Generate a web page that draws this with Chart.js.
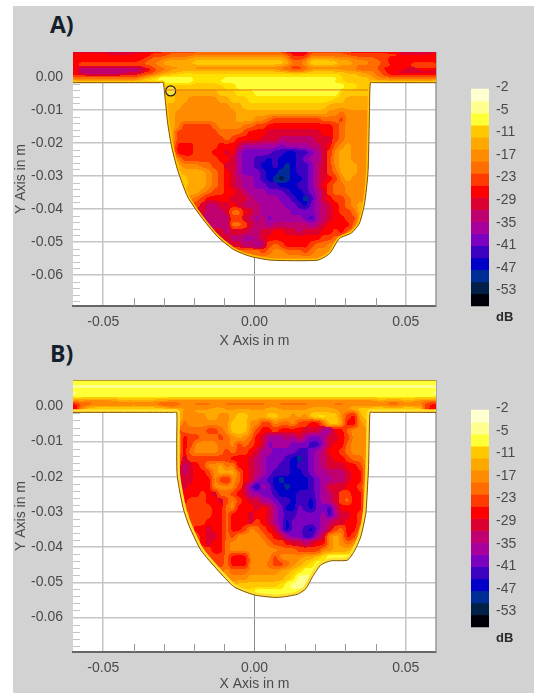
<!DOCTYPE html>
<html>
<head>
<meta charset="utf-8">
<script src="https://cdn.jsdelivr.net/npm/chart.js@4/dist/chart.umd.min.js"></script>
<style>
    html, body { margin: 0; padding: 0; background: #fff; }
    body { width: 534px; height: 693px; overflow: hidden; position: relative; }
    #panel { position: absolute; left: 13px; top: 6px; right: 0; bottom: 0; background: #d2d2d2; }
    canvas { position: absolute; }
    .tag { position: absolute; font: bold 23px "Open Sans", sans-serif; color: #14202c; }
</style>
</head>
<body>
<div id="panel"></div>
<div class="tag" style="left:50px;top:8px">A)</div>
<div class="tag" style="left:50px;top:337px">B)</div>
<canvas id="chartA" width="521" height="340" style="left:13px;top:10px"></canvas>
<canvas id="chartB" width="521" height="343" style="left:13px;top:350px"></canvas>
<canvas id="legendA" width="94" height="260" style="left:440px;top:76px"></canvas>
<canvas id="legendB" width="94" height="260" style="left:440px;top:397px"></canvas>
<script>
// dB bands, top of the colour bar first. Letters in the grids below index this list,
// d is an in-between shade that only the field uses
const bandColors = [
    '#ffffd0', '#ffff90', '#ffff38', '#ffe200', '#ffc800', '#ffa800', '#ff8c00',
    '#ff6c00', '#ff3c00', '#ff0000', '#dc0030', '#c0006e', '#a8009c', '#7c00c0',
    '#3c00c0', '#0000c8', '#002c96', '#002048', '#000008'
];
const legendColors = bandColors.filter((c, i) => i !== 3);
const legendLabels = ['-2', '-5', '-11', '-17', '-23', '-29', '-35', '-41', '-47', '-53', 'dB'];
const legendTicks = [-0.17, 1.71, 3.59, 5.46, 7.34, 9.21, 11.09, 12.97, 14.84, 16.72, 18.92];

const xLabels = [-0.05, 0, 0.05];
const yLabels = [0, -0.01, -0.02, -0.03, -0.04, -0.05, -0.06];
const xMinor = [-0.04, -0.03, -0.02, -0.01, 0.01, 0.02, 0.03, 0.04];
const yMinor = [-0.002, -0.004, -0.006, -0.008, -0.012, -0.014, -0.016, -0.018, -0.022, -0.024, -0.026, -0.028,
    -0.032, -0.034, -0.036, -0.038, -0.042, -0.044, -0.046, -0.048, -0.052, -0.054, -0.056, -0.058,
    -0.062, -0.064, -0.066, -0.068];

// band rows of the strip above y = -0.002, 1 mm rows, 2 mm columns from x = -0.06
const stripA = [
    'kkkkkkllll kkkjjiiiii iiiiiiiiii iiiiikkkki iiiiijjjjj jjjjlllllk',
    'jjjjjjjjjj jjjiiihhhh gggggggggg ggggghjjjh hhhhhhiiii iiiijjjjjj',
    'jjjjjjjjjj jjihhggggf ffffffffff fffffgiihf fffgggghhh iijjjjjjjj',
    'jjjjjjjjjj jihhgfffff eeeeeeeeee eeeeefhhge eeeeffgggh hijjjjjjjj',
    'jhhhhhhhhh hhhggfffee eeeeeeeeee eeeeefggfe eeeefffggh hiijjjhhhh',
    'jlllllllll lljihhgggg hhhhhhhhhh hhhhiijjih hhhhhhhiih ijjjjkkjjj',
    'jmmmmmmmml lkjihgffee eeeeeeeeee eeeeeffffe eeeeefffgg hijkkkkkkk',
    'jjkkkkkkjj jihgfeeddd dddddddddd dddddddddd ddddeeeffg hijjjjjjjj',
    'gggggggggg gfedcccccc dddddccccc cccccccccc ccccdeeeef gggggggggg',
    'ffffffffff feddcccccc ddddcccccc cccccccccc cccdeeeeef ffffffffff'
];
const stripB = [
    'cccccccccc cccccccccc cccccccccc cccccccccc cccccccccc cccccccccc',
    'cccccccccc cccccccccc cccccccccc cccccccccc cccccccccc cccccccccc',
    'bbbbbbbbbb bbbbbbbbbb bbbbbbbbbb bbbbbbbbbb bbbbbbbbbb bbbbbbbbbb',
    'cccccccccc cccccccccc cccccccccc cccccccccc cccccccccc cccccccccc',
    'bbbbbbbbbb bbbbbbbbbb bbbbbbbbbb bbbbbbbbbb bbbbbbbbbb bbbbbbbbbb',
    'dddddddddd dddddddddd dddddddddd dddddddddd dddddddddd dddddddddd',
    'ffgggggfff ffffffgggg gggggggggg gggggggggg gggggggggg fffffffggg',
    'jiihhhhhhh hhhhiiihhh hhhhhhhhhh hhhhhhhhhh hhhhhhhhhh hhiihhhhij',
    'jgeeeeeeee eeeeefggff gggffggggg ggffgggggf fffggfeeee eeeeeeeeij',
    'jfeddddddd dddddddegg ffffffffff ffffffffff ffffgggeed dddddddeij'
];

// band rows of the cavity below y = -0.002, 2 mm cells, columns from x = -0.03
const cavityA = [
    'eeeee eeeee ddccc ccccc ccccc ccccc ddeee',
    'eefff ffffe eeddd ccccc ccccc cccce eeeee',
    'eeffg ggggf feeed ddddd ddddd dddee fffff',
    'fffgg ggggg gffee eeeee eeeee eefff fffff',
    'ffggg ggggg ggfff fffff fffff ffggh ggggg',
    'ffggg ggggg ggfff gghii iiiii ihhhi ggggg',
    'ffgii iiihg ggghh iijjj jjjjj jjjih ggggg',
    'ffiii iiiih hhhij jjkkk kkkkk kjjih ggggg',
    'ffiii iiiii hijjj jkkkl lllll kkkih ggggg',
    'ffjjj iiiij jjkmm mmmmn mmmml lkjhg fgggg',
    'ffjjj iiijj kjmnn nnnoo ppoon mkigf fgggg',
    'eegii iiiij jkmnn oopop pponm mkigf fgggg',
    'eefgg ghhii kkmnn oppop qpoon lkigf ffggg',
    'eeeff ffghi jkmnn noppq qpoon lkihf ffggg',
    'eeeef ffghi jklmm nopqr qppon lkjig fgggg',
    'eeeef ffghi jklmm nnoop ppoon ljihh ggggg',
    'fffff fghii jjklm mmnnn oppon mkihh ggggg',
    'ggggg hijjj jkkkl mmmmn nopqo mkjii hgggg',
    'iiiii ikllk kjkll lmmmm nnopn mlkji hgfff',
    'kkkkk kklll khhjk lmmmm mnnnn mlkji ihfff',
    'lllll lllll liikl mlnmm mmmno mlkjj iifff',
    'lllll lllll lhhik llmll llllm lkjjj jhfff',
    'kkkkk kkkkk lkkkl lkkjj kklkk kjjij hhggg',
    'kkkkk kkkkk kllmm lkjjj jjjjj jiihh ggggg',
    'kkkkk kkkkk kkkll mlihi jjjji hhggg ggggg',
    'hhhhh hhhhh hhhhh hihgg hhhih ggggg ggggg',
    'ggggg ggggg ggggg ggggg ggggg ggggg ggggg'
];
const cavityB = [
    'eeegg ggffg gfeef ffeef fgfge ddeeg ijfee',
    'fffhg ggggg geeeg giigh hgiij jheef jjgff',
    'ffihh hhiih geeeg ijjij jjjkk kmmjj hgggg',
    'ffgji ihhhi hgfgh jkmmm lmkmn nmkkj igggg',
    'ffgji ggggh hgihi jknmm mnnno omkjj hgggg',
    'ffgjh ggggh ihiij kmmnn nnoon mljji hgggg',
    'ffhki iiiii ijjjk lmnnn opqon mlkjj ihhgg',
    'ffilk jiggf hgjjk lmnno opoon mlkkk jjigg',
    'ffjlk jjigf ffhjk lmnoo oppon mmlll kjjgg',
    'ffjkk jjjgi jghjk mnopq ppppo nmmll kjjgg',
    'ffjkj jjjgg ggikn pmnpp qpppo nmkkk jjigg',
    'ffjjj jijkh hijkm mnnop ppooo nmlki ijjgg',
    'ffjji iijjk igijk kmmno opoop nmlki hjjgg',
    'ffgii iiijj hgjjj kjkmn ppnop nnolj jjjgg',
    'ggggi iiijj hjjjk jjkmn oonnn nmomk kjigg',
    'ffffi iijjj hjjjk ijkmn pnnnn nmlkk jjigg',
    'iiiii jjkjj hjjig hijkn pnnop nmkih jjhgg',
    'hhhhi ijkkj higgg ghijk mnnoo mkgfg jiggg',
    'hhhhh ijkjj hgggg gghii jkklk jjgfg hgeee',
    'iiiii iiijj hgggg ggggh hhiii iggff fedcc',
    'hhhhh iiiii hjjjg gggig gggff edccc ccccc',
    'hhhhh hhiii hjjjg gghii hgfed ccccc ccccc',
    'hhhhh hhhhh ghhhg ggggf fedcc ccccc ccccc',
    'ggggg ggggg ggggf fffff edbbb bbbbb bbbbb',
    'fffff fffff ffeee eeeed cbbbb bbbbb bbbbb',
    'ddddd ddddd ddddd ccccc ccccc ccccc ccccc',
    'ccccc ccccc ccccc ccccc ccccc ccccc ccccc'
];

// outline of the measured field, strip edge then around the cavity
const outlineAX = [-0.06, -0.0312, -0.0302, -0.0296, -0.0287, -0.0274, -0.0254, -0.0221, -0.0177, -0.0122, -0.0067, -0.0012, 0.0055, 0.0209, 0.0248, 0.0281, 0.032, 0.0347, 0.0364, 0.0375, 0.0378, 0.038, 0.0383, 0.0393, 0.06];
const outlineAY = [-0.0017, -0.0017, -0.0017, -0.006, -0.014, -0.0211, -0.0282, -0.0363, -0.0423, -0.0484, -0.0524, -0.0544, -0.0555, -0.0555, -0.0535, -0.0489, -0.0473, -0.0443, -0.0383, -0.0292, -0.0201, -0.011, -0.0017, -0.0017, -0.0017];
const outlineBX = [-0.06, -0.0267, -0.0257, -0.0257, -0.0256, -0.0248, -0.0234, -0.0215, -0.0177, -0.0122, -0.0067, 0, 0.0076, 0.0142, 0.017, 0.0192, 0.0219, 0.0252, 0.0307, 0.0329, 0.0351, 0.0368, 0.0373, 0.0377, 0.0379, 0.0382, 0.0392, 0.06];
const outlineBY = [-0.0017, -0.0017, -0.0017, -0.0096, -0.0191, -0.0238, -0.0295, -0.0342, -0.0409, -0.0465, -0.0513, -0.0536, -0.0543, -0.0534, -0.0518, -0.0484, -0.0451, -0.0439, -0.0437, -0.0413, -0.0371, -0.0304, -0.0238, -0.0172, -0.0096, -0.0017, -0.0017, -0.0017];

// the thin line and the probe ring in panel A, the top edge of panel B
const seamX = [-0.0295, 0.0375];
const seamY = [-0.0039, -0.0039];
const ringX = [-0.0277];
const ringY = [-0.0042];
const edgeX = [-0.06, 0.06];
const edgeY = [0.0074, 0.0074];

function gridCells(rows, xStart, yStart, dx, dy) {
    const cells = [];
    rows.forEach((text, r) => {
        const row = text.replace(/ /g, '');
        for (let c = 0; c < row.length; c++) {
            cells.push({
                x: xStart + dx * (c + 0.5),
                y: yStart - dy * (r + 0.5),
                w: dx,
                h: dy,
                v: row.charCodeAt(c) - 97
            });
        }
    });
    return cells;
}

function toPoints(xs, ys) {
    return xs.map((x, i) => ({ x: x, y: ys[i] }));
}

// snap every pixel to the nearest band so the field shows contour bands
function snapToBands(canvas) {
    const rgb = bandColors.map(c => [1, 3, 5].map(i => parseInt(c.substr(i, 2), 16)));
    const sctx = canvas.getContext('2d');
    const image = sctx.getImageData(0, 0, canvas.width, canvas.height);
    const d = image.data;
    for (let i = 0; i < d.length; i += 4) {
        if (d[i + 3] === 0) continue;
        let best = 0;
        let bestDist = Infinity;
        rgb.forEach((c, k) => {
            const dist = (c[0] - d[i]) ** 2 + (c[1] - d[i + 1]) ** 2 + (c[2] - d[i + 2]) ** 2;
            if (dist < bestDist) {
                bestDist = dist;
                best = k;
            }
        });
        d[i] = rgb[best][0];
        d[i + 1] = rgb[best][1];
        d[i + 2] = rgb[best][2];
        d[i + 3] = 255;
    }
    sctx.putImageData(image, 0, 0);
}

// fills the plot, draws the short axis ticks and paints the cells through the scales
function fieldPlugin(rimColor, rimWidth) {
    return {
        id: 'field',
        beforeDraw(chart) {
            const a = chart.chartArea;
            chart.ctx.fillStyle = '#fff';
            chart.ctx.fillRect(a.left, a.top, a.width, a.height);
        },
        beforeDatasetsDraw(chart) {
            const ctx = chart.ctx;
            const a = chart.chartArea;
            const xs = chart.scales.x;
            const ys = chart.scales.y;

            ctx.save();
            ctx.strokeStyle = '#c4c4c4';
            ctx.lineWidth = 1;
            yMinor.forEach(v => {
                const py = Math.round(ys.getPixelForValue(v)) + 0.5;
                ctx.beginPath();
                ctx.moveTo(a.left, py);
                ctx.lineTo(a.left + 7, py);
                ctx.stroke();
            });
            ctx.strokeStyle = '#999';
            xMinor.forEach(v => {
                const px = Math.round(xs.getPixelForValue(v)) + 0.5;
                ctx.beginPath();
                ctx.moveTo(px, a.bottom);
                ctx.lineTo(px, a.bottom - 8);
                ctx.stroke();
            });
            ctx.strokeStyle = '#9a9a9a';
            ctx.lineWidth = 1.5;
            ctx.beginPath();
            ctx.moveTo(a.right, a.top);
            ctx.lineTo(a.right, a.bottom);
            ctx.stroke();
            ctx.restore();

            // cells go on a spare canvas first so they can be softened as one picture
            const spare = document.createElement('canvas');
            spare.width = chart.width;
            spare.height = chart.height;
            const sctx = spare.getContext('2d', { willReadFrequently: true });
            chart.data.datasets[0].data.forEach(cell => {
                const left = xs.getPixelForValue(cell.x - cell.w / 2);
                const right = xs.getPixelForValue(cell.x + cell.w / 2);
                const top = ys.getPixelForValue(cell.y + cell.h / 2);
                const bottom = ys.getPixelForValue(cell.y - cell.h / 2);
                sctx.fillStyle = bandColors[cell.v];
                sctx.fillRect(left - 0.5, top - 0.5, right - left + 1, bottom - top + 1);
            });
            sctx.filter = 'blur(2.2px)';
            sctx.drawImage(spare, 0, 0);
            sctx.filter = 'none';
            snapToBands(spare);

            // same curve the outline dataset draws
            const line = chart.getDatasetMeta(1).dataset;

            ctx.save();
            ctx.beginPath();
            line.path(ctx);
            ctx.lineTo(a.right, a.top);
            ctx.lineTo(a.left, a.top);
            ctx.closePath();
            ctx.clip();
            ctx.drawImage(spare, 0, 0);
            ctx.filter = 'blur(0.6px)';
            ctx.drawImage(spare, 0, 0);
            ctx.beginPath();
            line.path(ctx);
            ctx.strokeStyle = rimColor;
            ctx.lineWidth = rimWidth;
            ctx.stroke();
            ctx.restore();
        }
    };
}

function createField(id, cells, outline, extras, yMax, yMin, padTop, xHeight, rimColor, rimWidth) {
    const datasets = [
        { label: 'cells', data: cells, pointRadius: 0, showLine: false },
        { label: 'outline', data: outline, showLine: true, pointRadius: 0, borderColor: '#86510e', borderWidth: 1, tension: 0.2 }
    ].concat(extras);

    return new Chart(document.getElementById(id), {
        type: 'scatter',
        data: { datasets: datasets },
        options: {
            responsive: false,
            animation: false,
            layout: { padding: { top: padTop, right: 98, left: 0, bottom: 0 } },
            plugins: { legend: { display: false }, tooltip: { enabled: false } },
            scales: {
                x: {
                    min: -0.06,
                    max: 0.06,
                    afterBuildTicks: s => { s.ticks = xLabels.map(v => ({ value: v })); },
                    afterFit: s => { s.height = xHeight; },
                    border: { color: '#666', width: 2 },
                    grid: {
                        drawTicks: false,
                        color: c => (c.tick && c.tick.value === 0 ? '#8c8c8c' : '#c4c4c4'),
                        lineWidth: c => (c.tick && c.tick.value === 0 ? 1 : 1.5)
                    },
                    ticks: {
                        padding: 8,
                        maxRotation: 0,
                        color: '#4a4a4a',
                        font: { family: '"Liberation Sans"', size: 14 },
                        callback: v => v.toFixed(2)
                    },
                    title: {
                        display: true,
                        text: 'X Axis in m',
                        color: '#4a4a4a',
                        font: { family: '"Liberation Sans"', size: 14 },
                        padding: { top: 0, bottom: 0 }
                    }
                },
                y: {
                    min: yMin,
                    max: yMax,
                    afterBuildTicks: s => { s.ticks = yLabels.map(v => ({ value: v })); },
                    afterFit: s => { s.width = 60; },
                    border: { display: false },
                    grid: { drawTicks: false, color: '#c4c4c4', lineWidth: 1.5 },
                    ticks: {
                        padding: 10,
                        color: '#4a4a4a',
                        font: { family: '"Liberation Sans"', size: 14 },
                        callback: v => v.toFixed(2)
                    },
                    title: {
                        display: true,
                        text: 'Y Axis in m',
                        color: '#4a4a4a',
                        font: { family: '"Liberation Sans"', size: 14 },
                        padding: { top: 0, bottom: 0 }
                    }
                }
            }
        },
        plugins: [fieldPlugin(rimColor, rimWidth)]
    });
}

function createLegend(id) {
    return new Chart(document.getElementById(id), {
        type: 'bar',
        data: {
            labels: ['dB'],
            datasets: legendColors.map((color, i) => ({
                label: 'band ' + i,
                data: [1],
                backgroundColor: color,
                barPercentage: 1,
                categoryPercentage: 1
            }))
        },
        options: {
            responsive: false,
            animation: false,
            layout: { padding: { top: 1, left: 31, right: 0, bottom: 12 } },
            plugins: { legend: { display: false }, tooltip: { enabled: false } },
            scales: {
                x: { stacked: true, display: false },
                y: {
                    stacked: true,
                    reverse: true,
                    position: 'right',
                    min: -1,
                    max: 19.5,
                    afterBuildTicks: s => { s.ticks = legendTicks.map(v => ({ value: v })); },
                    afterFit: s => { s.width = 45; s.paddingTop = 0; s.paddingBottom = 0; },
                    border: { display: false },
                    grid: { display: false, drawTicks: false },
                    ticks: {
                        padding: 7,
                        color: c => (c.index === 10 ? '#2a2a2a' : '#4a4a4a'),
                        font: c => ({ family: '"Liberation Sans"', size: c.index === 10 ? 13 : 14, weight: c.index === 10 ? 'bold' : 'normal' }),
                        callback: (v, i) => legendLabels[i]
                    }
                }
            }
        }
    });
}

createField('chartA',
    gridCells(stripA, -0.06, 0.008, 0.002, 0.001).concat(gridCells(cavityA, -0.03, -0.002, 0.002, 0.002)),
    toPoints(outlineAX, outlineAY),
    [
        { label: 'seam', data: toPoints(seamX, seamY), showLine: true, pointRadius: 0, borderColor: '#e07a10', borderWidth: 1 },
        { label: 'ring', data: toPoints(ringX, ringY), pointRadius: 5, backgroundColor: '#ffe040', borderColor: '#1c1c1c', borderWidth: 1.2 }
    ],
    0.0076, -0.0694, 42, 44, '#ffc800', 4);

createField('chartB',
    gridCells(stripB, -0.06, 0.008, 0.002, 0.001).concat(gridCells(cavityB, -0.03, -0.002, 0.002, 0.002)),
    toPoints(outlineBX, outlineBY),
    [{ label: 'edge', data: toPoints(edgeX, edgeY), showLine: true, pointRadius: 0, borderColor: '#b08a20', borderWidth: 1 }],
    0.0075, -0.0698, 30, 41, '#ffe030', 6);

createLegend('legendA');
createLegend('legendB');
</script>
</body>
</html>
